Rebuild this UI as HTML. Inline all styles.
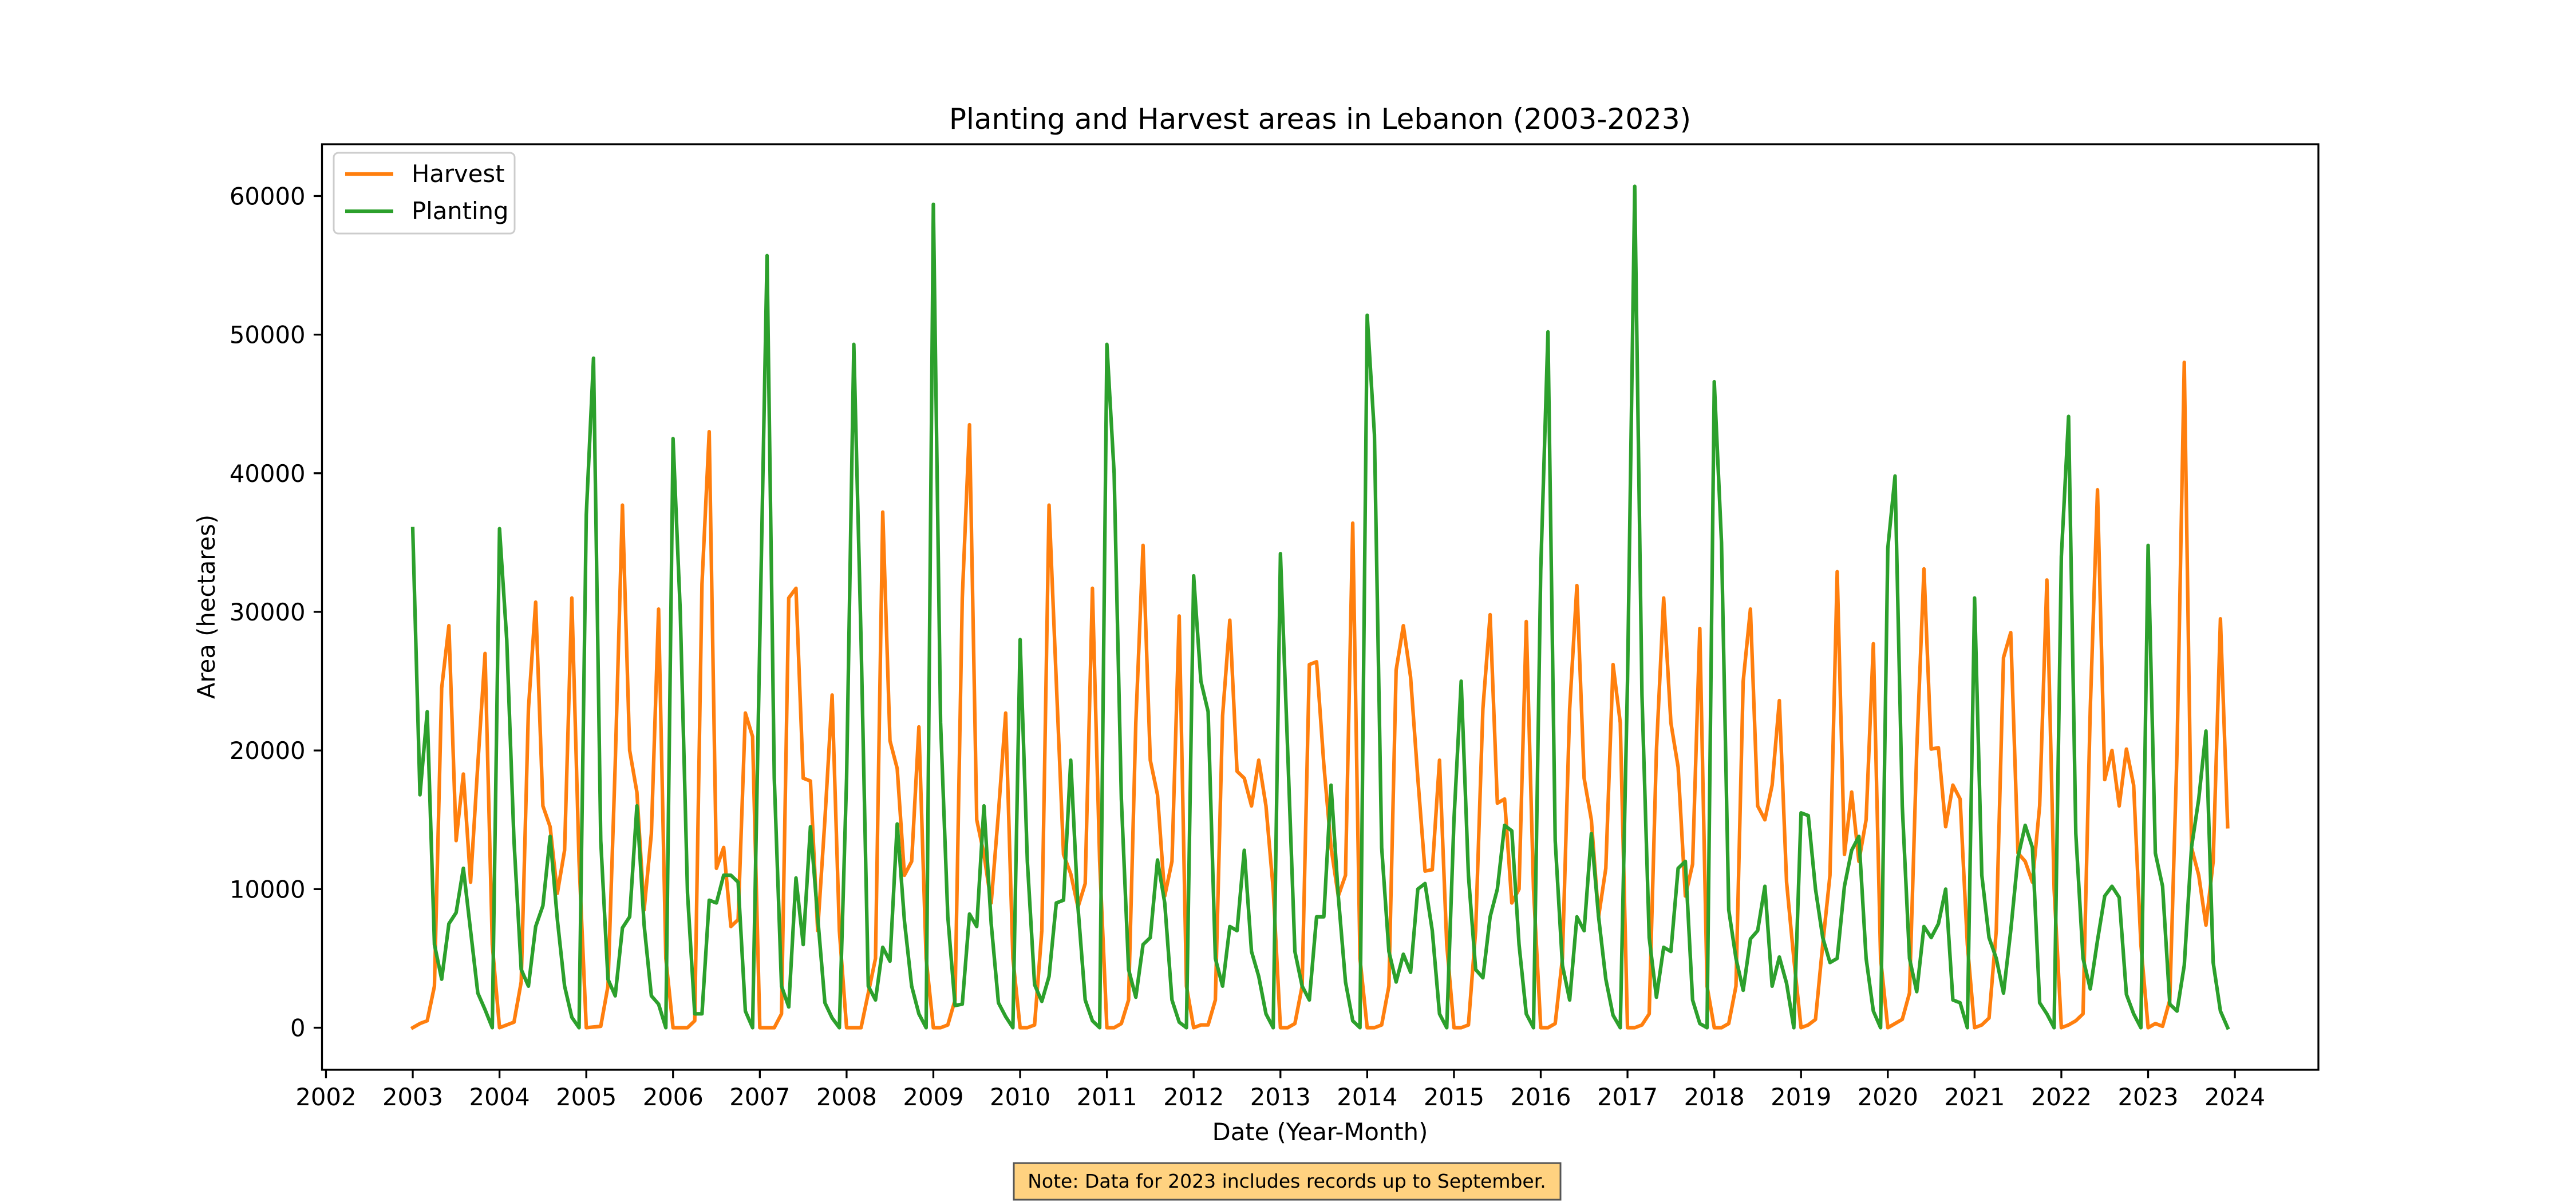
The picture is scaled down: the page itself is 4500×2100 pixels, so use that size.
<!DOCTYPE html>
<html><head><meta charset="utf-8">
<style>
html,body{margin:0;padding:0;background:#fff;}
svg{display:block;font-family:"DejaVu Sans","Liberation Sans",sans-serif;}
</style></head>
<body>
<svg id="chart" width="4500" height="2100" viewBox="0 0 4500 2100" xmlns="http://www.w3.org/2000/svg">
<rect x="0" y="0" width="4500" height="2100" fill="#fff"/>
<text x="2306" y="225" font-size="50" text-anchor="middle" fill="#000">Planting and Harvest areas in Lebanon (2003-2023)</text>
<g id="plot"></g>
<text x="2306" y="1992" font-size="41.7" text-anchor="middle" fill="#000">Date (Year-Month)</text>
<text x="0" y="0" font-size="41.7" text-anchor="middle" fill="#000" transform="translate(375,1060) rotate(-90)">Area (hectares)</text>
<g>
<rect x="583" y="267" width="316" height="141" rx="8" fill="#fff" fill-opacity="0.8" stroke="#ccc" stroke-width="3"/>
<g>
<line x1="603" y1="304" x2="687" y2="304" stroke="#ff7f0e" stroke-width="6.25"/>
<text x="719" y="318" font-size="41.7" fill="#000">Harvest</text>
</g>
<g>
<line x1="603" y1="369" x2="687" y2="369" stroke="#2ca02c" stroke-width="6.25"/>
<text x="719" y="383" font-size="41.7" fill="#000">Planting</text>
</g>
</g>
<g>
<rect x="1771" y="2032" width="955" height="64" fill="#ffd280" stroke="#555" stroke-width="3"/>
<text x="2248" y="2075" font-size="33" text-anchor="middle" fill="#000">Note: Data for 2023 includes records up to September.</text>
</g>
</svg>
<script>
const years = [2003,2004,2005,2006,2007,2008,2009,2010,2011,2012,2013,2014,2015,2016,2017,2018,2019,2020,2021,2022,2023];
const harvest = [
0,300,500,3000,24500,29000,13500,18300,10500,19000,27000,6000,
0,200,400,3300,23000,30700,16000,14500,9700,12800,31000,12000,
0,50,100,3000,19000,37700,20000,17000,8500,14000,30200,5000,
0,0,0,500,32000,43000,11500,13000,7300,7800,22700,21000,
0,0,0,1000,31000,31700,18000,17800,7000,15000,24000,7000,
0,0,0,2500,5000,37200,20700,18700,11000,12000,21700,5000,
0,0,200,2000,31000,43500,15000,12500,9000,15500,22700,5000,
0,0,200,7000,37700,25000,12500,11100,8700,10400,31700,12000,
0,0,300,2000,22000,34800,19300,16800,9500,12000,29700,3000,
0,200,200,2000,22500,29400,18500,18000,16000,19300,16000,10000,
0,0,300,3000,26200,26400,19000,13000,9500,11000,36400,5000,
0,0,200,3000,25800,29000,25300,18000,11300,11400,19300,6000,
0,0,200,7000,23000,29800,16200,16500,9000,10000,29300,10000,
0,0,300,5000,23000,31900,18000,15000,8000,11500,26200,22000,
0,0,200,1000,20000,31000,22000,18800,9500,11800,28800,3000,
0,0,300,3000,25000,30200,16000,15000,17500,23600,10500,5000,
0,200,600,6000,11000,32900,12500,17000,12000,15000,27700,5000,
0,300,600,2500,20000,33100,20100,20200,14500,17500,16500,6000,
0,200,700,7000,26700,28500,12600,12000,10500,16000,32300,10000,
0,200,500,1000,23000,38800,17900,20000,16000,20100,17500,6000,
0,300,100,2000,20000,48000,13000,11000,7400,12000,29500,14500];
const planting = [
36000,16800,22800,6000,3500,7500,8300,11500,7000,2500,1300,0,
36000,28000,13500,4200,3000,7300,8800,13800,7800,3000,750,0,
37000,48300,13500,3500,2300,7200,8000,16000,7400,2300,1700,0,
42500,30000,9700,1000,1000,9200,9000,11000,11000,10500,1200,0,
28000,55700,18000,3000,1500,10800,6000,14500,8000,1800,700,0,
18000,49300,28000,3000,2000,5800,4800,14700,7700,3000,1000,0,
59400,22000,8000,1600,1700,8200,7300,16000,7500,1800,800,0,
28000,12000,3100,1900,3700,9000,9200,19300,8700,2000,500,0,
49300,40000,16500,4200,2200,6000,6500,12100,9000,2000,400,0,
32600,25000,22800,5000,3000,7300,7000,12800,5500,3700,1000,0,
34200,20000,5500,3000,2000,8000,8000,17500,9500,3300,500,0,
51400,42800,13000,5500,3300,5300,4000,10000,10400,7000,1000,0,
15000,25000,11000,4200,3600,8000,10000,14600,14200,6000,1000,0,
33000,50200,13500,4500,2000,8000,7000,14000,8000,3500,900,0,
25000,60700,24000,6500,2200,5800,5500,11500,12000,2000,300,0,
46600,35000,8500,5000,2700,6400,7000,10200,3000,5100,3200,0,
15500,15300,10000,6500,4700,5000,10200,12800,13800,5000,1200,0,
34600,39800,16000,5000,2600,7300,6500,7500,10000,2000,1800,0,
31000,11000,6500,5000,2500,7000,12300,14600,13000,1800,1000,0,
34000,44100,14000,5000,2800,6300,9500,10200,9400,2400,1000,0,
34800,12600,10200,1700,1200,4500,13000,16500,21400,4700,1200,0];
const xTickLabels = ["2002","2003","2004","2005","2006","2007","2008","2009","2010","2011","2012","2013","2014","2015","2016","2017","2018","2019","2020","2021","2022","2023","2024"];
const yTickValues = [0,10000,20000,30000,40000,50000,60000];

const NS="http://www.w3.org/2000/svg";
const L=562.5,R=4050,T=252,B=1869;
const t0=years[0], t1=years[years.length-1]+11/12, span=t1-t0;
const xmin=t0-0.05*span, xmax=t1+0.05*span;
const allV=harvest.concat(planting);
const vmax=Math.max(...allV), vmin=Math.min(...allV);
const ymin=vmin-0.05*(vmax-vmin), ymax=vmax+0.05*(vmax-vmin);
function X(t){return L+(t-xmin)/(xmax-xmin)*(R-L);}
function Y(v){return B-(v-ymin)/(ymax-ymin)*(B-T);}
const plot=document.getElementById('plot');
function mk(tag,attrs){const e=document.createElementNS(NS,tag);for(const k in attrs)e.setAttribute(k,attrs[k]);return e;}

function series(vals,color,name){
  let d="";
  vals.forEach((v,i)=>{const t=t0+i/12;d+=(i?"L":"M")+X(t).toFixed(2)+","+Y(v).toFixed(2);});
  const p=mk('path',{d:d,fill:"none",stroke:color,"stroke-width":6.25,"stroke-linejoin":"round","stroke-linecap":"square"});
  
  
  plot.appendChild(p);
}
const clip=mk('clipPath',{id:'cp'});clip.appendChild(mk('rect',{x:L,y:T,width:R-L,height:B-T}));plot.appendChild(clip);
series(harvest,"#ff7f0e","harvest-line");
series(planting,"#2ca02c","planting-line");

// x ticks
xTickLabels.forEach(lab=>{
  const x=X(+lab);
  const tk=mk('line',{x1:x,y1:B,x2:x,y2:B+14.6,stroke:"#000","stroke-width":3.3});
  
  
  plot.appendChild(tk);
  const tx=mk('text',{x:x,y:B+62,"font-size":41.7,"text-anchor":"middle",fill:"#000"});
  tx.textContent=lab;
  
  
  plot.appendChild(tx);
});
// y ticks
yTickValues.forEach(v=>{
  const y=Y(v);
  const tk=mk('line',{x1:L-14.6,y1:y,x2:L,y2:y,stroke:"#000","stroke-width":3.3});
  
  
  plot.appendChild(tk);
  const tx=mk('text',{x:L-29,y:y+15,"font-size":41.7,"text-anchor":"end",fill:"#000"});
  tx.textContent=String(v);
  
  
  plot.appendChild(tx);
});
const frame=mk('rect',{x:L,y:T,width:R-L,height:B-T,fill:"none",stroke:"#000","stroke-width":3.3});


plot.appendChild(frame);
</script>
</body></html>
